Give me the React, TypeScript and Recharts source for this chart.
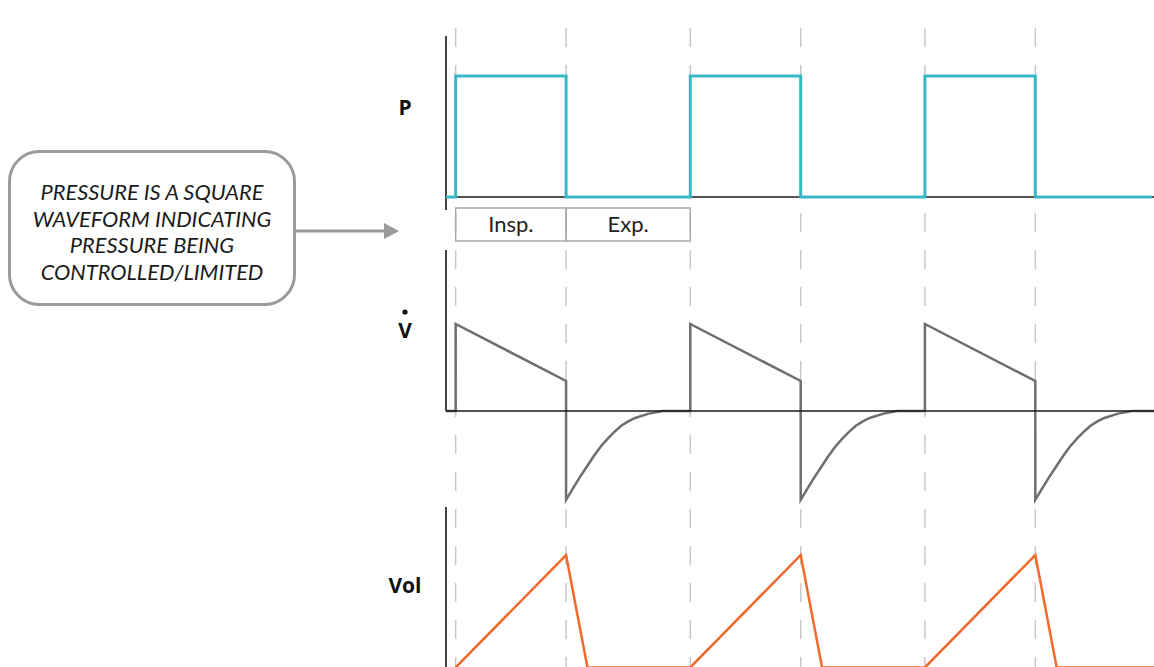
import React from 'react';
import { LineChart, Line, XAxis, YAxis, ReferenceLine, ReferenceArea } from 'recharts';

// time axis (arbitrary units, tenths of a second)
const X_DOMAIN: [number, number] = [-0.7, 50.6];

// boundaries between inspiration / expiration phases
const phaseBoundaries = [0, 8, 17, 25, 34, 42];
const phaseLabels = ['Insp.', 'Exp.'];

// Pressure (square wave)
const pressureTime = [-0.7, 0, 0, 8, 8, 17, 17, 25, 25, 34, 34, 42, 42, 50.45];
const pressureValue = [0, 0, 1, 1, 0, 0, 1, 1, 0, 0, 1, 1, 0, 0];

// Flow (decelerating inspiration, exponential expiration)
const flowTime = [
  -0.7, 0, 0, 8, 8, 8.5, 9, 9.5, 10, 10.5, 11, 11.5, 12, 12.5, 13, 14, 15, 17,
  17, 25, 25, 25.5, 26, 26.5, 27, 27.5, 28, 28.5, 29, 29.5, 30, 31, 32, 34,
  34, 42, 42, 42.5, 43, 43.5, 44, 44.5, 45, 45.5, 46, 46.5, 47, 48, 49, 50.6,
];
const flowValue = [
  0, 0, 1, 0.345, -1.02, -0.89, -0.76, -0.64, -0.52, -0.41, -0.32, -0.24, -0.17, -0.12, -0.08, -0.03, 0, 0,
  1, 0.345, -1.02, -0.89, -0.76, -0.64, -0.52, -0.41, -0.32, -0.24, -0.17, -0.12, -0.08, -0.03, 0, 0,
  1, 0.345, -1.02, -0.89, -0.76, -0.64, -0.52, -0.41, -0.32, -0.24, -0.17, -0.12, -0.08, -0.03, 0, 0,
];

// Volume (linear rise, quick fall)
const volumeTime = [0, 8, 9.55, 17, 25, 26.55, 34, 42, 43.55, 50.6];
const volumeValue = [0, 1, 0, 0, 1, 0, 0, 1, 0, 0];

const calloutLines = [
  'PRESSURE IS A SQUARE',
  'WAVEFORM INDICATING',
  'PRESSURE BEING',
  'CONTROLLED/LIMITED',
];

const pressureData = pressureTime.map((t, i) => ({ t, p: pressureValue[i] }));
const flowData = flowTime.map((t, i) => ({ t, f: flowValue[i] }));
const volumeData = volumeTime.map((t, i) => ({ t, v: volumeValue[i] }));
const boundaryData = phaseBoundaries.map((t) => ({ t }));

const TEAL = '#38b7c7';
const GRAY = '#6e6e6e';
const ORANGE = '#f26a2b';
const DASH = '#c8c8c8';
const AXIS = '#444';
const BASE = '#1a1a1a';

const W = 1154;
const MARGIN = { top: 0, right: 0, bottom: 0, left: 446 };

const P_DOMAIN: [number, number] = [-0.3967, 1.3306];
const F_DOMAIN: [number, number] = [-1.08, 1.85];
const V_DOMAIN: [number, number] = [0.0044, 1.4267];

const abs = (top: number): React.CSSProperties => ({ position: 'absolute', left: 0, top });

export default function App() {
  return (
    <div
      style={{
        position: 'absolute',
        left: 0,
        top: 0,
        width: W,
        height: 667,
        background: '#fff',
        overflow: 'hidden',
        fontFamily: 'Open Sans, sans-serif',
      }}
    >
      {/* dashed phase markers */}
      <div style={abs(12)}>
        <LineChart width={W} height={655} data={boundaryData} margin={MARGIN}>
          <XAxis dataKey="t" type="number" domain={X_DOMAIN} allowDataOverflow hide />
          <YAxis type="number" domain={[0, 1]} allowDataOverflow hide />
          {phaseBoundaries.map((b) => (
            <ReferenceLine
              key={b}
              x={b}
              stroke={DASH}
              strokeWidth={1.5}
              strokeDasharray="19 18"
              strokeDashoffset={9}
            />
          ))}
        </LineChart>
      </div>

      {/* Pressure */}
      <div style={abs(36)}>
        <LineChart width={W} height={209} data={pressureData} margin={MARGIN}>
          <XAxis dataKey="t" type="number" domain={X_DOMAIN} allowDataOverflow hide />
          <YAxis type="number" domain={P_DOMAIN} allowDataOverflow hide />
          <ReferenceLine
            segment={[
              { x: X_DOMAIN[0], y: -0.107 },
              { x: X_DOMAIN[0], y: P_DOMAIN[1] },
            ]}
            stroke={AXIS}
            strokeWidth={2}
          />
          <ReferenceLine y={0} stroke={BASE} strokeWidth={1.5} />
          {phaseLabels.map((lab, i) => (
            <ReferenceArea
              key={lab}
              x1={phaseBoundaries[i]}
              x2={phaseBoundaries[i + 1]}
              y1={-0.364}
              y2={-0.091}
              fill="none"
              fillOpacity={0}
              stroke="#aaaaaa"
              strokeWidth={1.5}
              label={{ value: lab, position: 'center', fill: '#222', fontSize: 22, fontFamily: 'Lato, sans-serif' }}
            />
          ))}
          <Line
            dataKey="p"
            type="linear"
            stroke={TEAL}
            strokeWidth={3}
            dot={false}
            activeDot={false}
            isAnimationActive={false}
          />
        </LineChart>
      </div>

      {/* Flow */}
      <div style={abs(250)}>
        <LineChart width={W} height={255} data={flowData} margin={MARGIN}>
          <XAxis dataKey="t" type="number" domain={X_DOMAIN} allowDataOverflow hide />
          <YAxis type="number" domain={F_DOMAIN} allowDataOverflow hide />
          <ReferenceLine
            segment={[
              { x: X_DOMAIN[0], y: 0 },
              { x: X_DOMAIN[0], y: F_DOMAIN[1] },
            ]}
            stroke={AXIS}
            strokeWidth={2}
          />
          <Line
            dataKey="f"
            type="linear"
            stroke={GRAY}
            strokeWidth={2.5}
            dot={false}
            activeDot={false}
            isAnimationActive={false}
          />
          <ReferenceLine y={0} stroke={BASE} strokeWidth={1.5} />
        </LineChart>
      </div>

      {/* Volume */}
      <div style={abs(507)}>
        <LineChart width={W} height={160} data={volumeData} margin={MARGIN}>
          <XAxis dataKey="t" type="number" domain={X_DOMAIN} allowDataOverflow hide />
          <YAxis type="number" domain={V_DOMAIN} allowDataOverflow hide />
          <ReferenceLine x={X_DOMAIN[0]} stroke={AXIS} strokeWidth={2} />
          <Line
            dataKey="v"
            type="linear"
            stroke={ORANGE}
            strokeWidth={2.5}
            dot={false}
            activeDot={false}
            isAnimationActive={false}
          />
        </LineChart>
      </div>

      {/* annotations */}
      <svg width={W} height={667} style={{ position: 'absolute', left: 0, top: 0, pointerEvents: 'none' }}>
        <rect x={9.5} y={151.5} width={285} height={153} rx={30} ry={30} fill="#fff" stroke="#9a9a9a" strokeWidth={3} />
        {calloutLines.map((line, i) => (
          <text
            key={line}
            x={152}
            y={200 + i * 26.7}
            textAnchor="middle"
            fontFamily="Lato, sans-serif"
            fontStyle="italic"
            fontSize={21.8}
            fill="#1a1a1a"
          >
            {line}
          </text>
        ))}
        <line x1={295} y1={231} x2={386} y2={231} stroke="#9a9a9a" strokeWidth={3} />
        <polygon points="384,223 399,231 384,239" fill="#9a9a9a" />
        <text x={405} y={115} textAnchor="middle" fontFamily="Open Sans, sans-serif" fontWeight={700} fontSize={21} fill="#111">
          P
        </text>
        <circle cx={405} cy={312} r={2.6} fill="#111" />
        <text x={405} y={338} textAnchor="middle" fontFamily="Open Sans, sans-serif" fontWeight={700} fontSize={21} fill="#111">
          V
        </text>
        <text x={405} y={593} textAnchor="middle" fontFamily="Open Sans, sans-serif" fontWeight={700} fontSize={21} fill="#111">
          Vol
        </text>
      </svg>
    </div>
  );
}
